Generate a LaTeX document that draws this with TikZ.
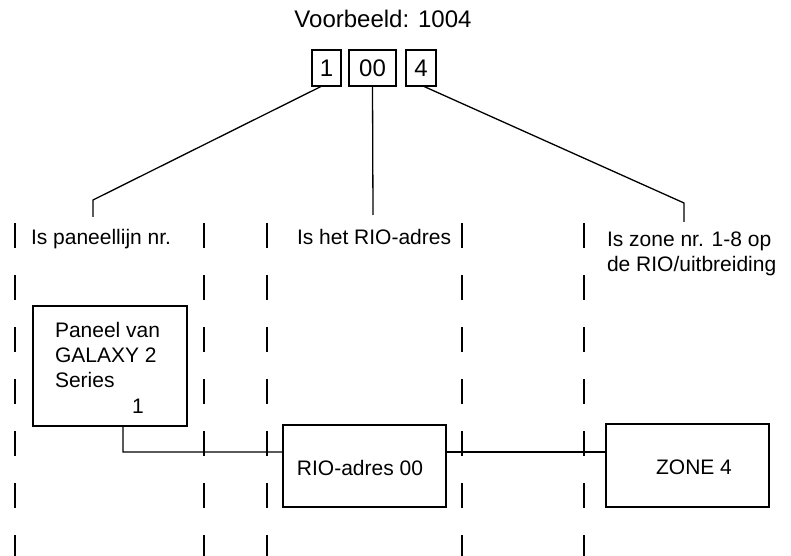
\documentclass[tikz,border=0pt]{standalone}
\usepackage{fontspec}
\setmainfont{Liberation Sans}
\begin{document}
\begin{tikzpicture}[x=1bp,y=-1bp,
  every node/.style={inner sep=0pt, outer sep=0pt},
  lbl/.style={anchor=base west, font=\fontsize{21bp}{25bp}\selectfont},
  ttl/.style={anchor=base, font=\fontsize{24bp}{28bp}\selectfont},
  digitbox/.style={draw, line width=1.3bp, minimum height=36bp, font=\fontsize{24bp}{28bp}\selectfont, text depth=0pt},
  blk/.style={draw, line width=1.3bp, anchor=north west},
  conn/.style={line width=1.3bp},
  sep/.style={line width=1.3bp, dash pattern=on 25bp off 27bp}
]
\useasboundingbox (0,0) rectangle (791,556);
% title
\node[ttl] (title) at (383,28) {Voorbeeld: 1004};
% digit boxes
\node[digitbox, minimum width=29bp] (d1) at (326.5,68) {1};
\node[digitbox, minimum width=47bp] (d2) at (372.5,68) {00};
\node[digitbox, minimum width=30bp] (d3) at (421,68) {4};
% column separators
\foreach \xx/\nm in {15/s1,204/s2,267/s3,462/s4,584/s5}{
  \coordinate (\nm t) at (\xx,223);
  \coordinate (\nm b) at (\xx,556);
  \draw[sep] (\nm t) -- (\nm b);
}
% labels
\node[lbl] (l1) at (31,245) {Is paneellijn nr.};
\node[lbl] (l2) at (297,245) {Is het RIO-adres};
\node[lbl] (l3) at (607,247) {Is zone nr. 1-8 op};
\node[lbl] (l3b) at (607,272) {de RIO/uitbreiding};
% pointer lines
\coordinate (p1) at (93,200);
\coordinate (p1e) at (93,217);
\coordinate (p2e) at (373,215);
\coordinate (p3) at (684,203);
\coordinate (p3e) at (684,222);
\draw[conn] ([xshift=-4.5bp]d1.south) -- (p1) -- (p1e);
\draw[conn] (d2.south) -- (p2e);
\draw[conn] ([xshift=2bp]d3.south) -- (p3) -- (p3e);
% blocks
\node[blk, minimum width=154bp, minimum height=120bp] (panel) at (33,306) {};
\node[lbl] (pt1) at (55,337) {Paneel van};
\node[lbl] (pt2) at (55,362) {GALAXY 2};
\node[lbl] (pt3) at (55,387) {Series};
\node[lbl] (pt4) at (132,413) {1};
\node[blk, minimum width=163bp, minimum height=82bp] (rio) at (283,425) {};
\node[lbl, anchor=base] (riot) at (360,475) {RIO-adres 00};
\node[blk, minimum width=163bp, minimum height=83bp] (zone) at (606,424) {};
\node[lbl, anchor=base] (zonet) at (694,474) {ZONE 4};
% connections
\coordinate (c1) at (123,452);
\draw[conn] ([xshift=13bp]panel.south) -- (c1) -- (c1 -| rio.west);
\draw[conn] (c1 -| rio.east) -- (c1 -| zone.west);
\end{tikzpicture}
\end{document}
